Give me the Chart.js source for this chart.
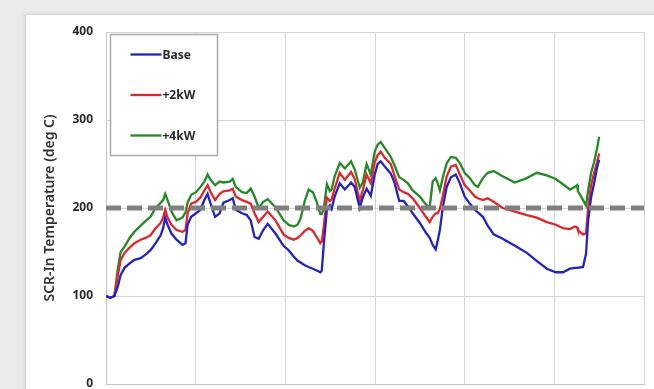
<!DOCTYPE html>
<html>
<head>
<meta charset="utf-8">
<script src="https://cdn.jsdelivr.net/npm/chart.js@4.4.1/dist/chart.umd.min.js"></script>
<style>
  html, body { margin: 0; padding: 0; width: 654px; height: 389px; overflow: hidden; background: #ebebeb; }
  #card { position: absolute; left: 25px; top: 14px; width: 700px; height: 500px; background: #ffffff;
          border: 1px solid #d6d6d6; box-shadow: 0 0 5px rgba(0,0,0,0.10); }
  #wrap { position: absolute; left: 0; top: 0; width: 654px; height: 430px; }
</style>
</head>
<body>
<div id="card"></div>
<div id="wrap"><canvas id="chart" width="654" height="430"></canvas></div>
<script>
// Time (s) over the drive cycle
const timeSec = [
  0, 15, 28, 39, 49, 62, 79, 95, 116, 132,
  149, 166, 183, 191, 198, 206, 219, 236, 256, 266,
  273, 285, 301, 316, 329, 340, 350, 365, 380, 393,
  414, 424, 434, 455, 471, 484, 497, 511, 526, 541,
  567, 594, 611, 628, 641, 651, 665, 678, 692, 705,
  717, 722, 729, 739, 749, 755, 765, 782, 799, 820,
  832, 849, 859, 872, 886, 899, 909, 919, 933, 953,
  966, 981, 996, 1010, 1026, 1050, 1070, 1083, 1093, 1103,
  1110, 1117, 1127, 1140, 1154, 1170, 1184, 1200, 1217, 1234,
  1244, 1261, 1277, 1297, 1327, 1368, 1408, 1441, 1475, 1505,
  1529, 1552, 1569, 1576, 1579, 1596, 1606, 1613, 1623, 1633,
  1643, 1650
];

// SCR inlet temperature (deg C), baseline
const tempBase = [
  100, 98, 100, 110, 124, 132, 137, 141, 143, 147,
  152, 160, 169, 177, 189, 181, 171, 164, 158, 160,
  181, 190, 194, 198, 209, 216, 205, 190, 194, 206,
  209, 211, 198, 194, 192, 186, 167, 165, 175, 182,
  171, 157, 152, 145, 140, 138, 135, 133, 131, 129,
  127, 129, 160, 198, 203, 199, 213, 228, 221, 229,
  224, 200, 212, 222, 214, 238, 250, 253, 247, 239,
  228, 208, 208, 202, 194, 183, 172, 166, 158, 153,
  163, 175, 201, 224, 235, 238, 228, 213, 205, 198,
  195, 190, 180, 170, 165, 157, 149, 140, 131, 127,
  127, 131, 132, 132, 132, 133, 148, 185, 212, 228,
  246, 255
];

// SCR inlet temperature (deg C), +2 kW
const temp2kW = [
  100, 98, 100, 122, 141, 149, 155, 160, 164, 166,
  169, 177, 183, 189, 198, 189, 181, 175, 173, 175,
  194, 205, 207, 212, 220, 226, 218, 209, 216, 219,
  220, 222, 213, 209, 207, 205, 194, 184, 190, 196,
  186, 170, 166, 164, 166, 169, 174, 177, 174, 167,
  160, 162, 180, 212, 208, 210, 222, 240, 232, 241,
  233, 208, 220, 238, 228, 252, 260, 264, 257, 250,
  236, 221, 218, 216, 211, 200, 190, 184, 190, 194,
  194, 199, 214, 236, 247, 249, 238, 226, 220, 213,
  211, 209, 211, 207, 200, 196, 192, 189, 184, 181,
  177, 176, 179, 178, 175, 170, 171, 200, 226, 240,
  252, 262
];

// SCR inlet temperature (deg C), +4 kW
const temp4kW = [
  100, 98, 100, 130, 150, 156, 166, 173, 180, 185,
  190, 200, 206, 209, 216, 209, 196, 186, 189, 195,
  206, 215, 218, 224, 230, 238, 232, 226, 230, 229,
  230, 233, 224, 218, 217, 222, 213, 200, 207, 210,
  201, 186, 181, 179, 181, 188, 208, 221, 218, 207,
  193, 193, 200, 227, 219, 221, 236, 251, 245, 253,
  244, 223, 229, 250, 238, 264, 272, 275, 268, 258,
  248, 235, 232, 228, 220, 213, 204, 201, 230, 234,
  228, 220, 235, 251, 258, 257, 251, 240, 234, 226,
  224, 234, 240, 242, 236, 229, 234, 240, 237, 233,
  227, 221, 224, 226, 219, 209, 203, 220, 240, 252,
  268, 281
];

const seriesNames = ['Base', '+2kW', '+4kW'];
const seriesColors = ['#2222c8', '#e3262b', '#248a24'];
const thresholdTemp = 200;
const yMin = 0, yMax = 400, yStep = 100;
const xMin = 0, xMax = 1800, xStep = 300;

const toPoints = (vals) => vals.map((v, i) => ({ x: timeSec[i], y: v }));

const FONT = '"Noto Sans", "Liberation Sans", sans-serif';

// Boxed legend inside the plot, upper-left corner
const insetLegend = {
  id: 'insetLegend',
  afterDraw(chart) {
    const ctx = chart.ctx;
    const left = chart.chartArea.left + 4.5;
    const top = chart.chartArea.top + 2.5;
    const w = 107, h = 121;
    ctx.save();
    ctx.fillStyle = '#ffffff';
    ctx.fillRect(left, top, w, h);
    ctx.strokeStyle = '#ababab';
    ctx.lineWidth = 1.5;
    ctx.strokeRect(left, top, w, h);
    ctx.font = 'bold 12px ' + FONT;
    ctx.textBaseline = 'middle';
    ctx.textAlign = 'left';
    chart.data.datasets.forEach((ds, i) => {
      if (!seriesNames.includes(ds.label)) return;
      const y = top + 20 + i * 40.5;
      ctx.strokeStyle = ds.borderColor;
      ctx.lineWidth = 2.3;
      ctx.beginPath();
      ctx.moveTo(left + 20, y);
      ctx.lineTo(left + 51, y);
      ctx.stroke();
      ctx.fillStyle = '#2a2a2a';
      ctx.fillText(ds.label, left + 52, y + 1);
    });
    ctx.restore();
  }
};

const datasets = [
  { label: seriesNames[0], data: toPoints(tempBase), borderColor: seriesColors[0] },
  { label: seriesNames[1], data: toPoints(temp2kW), borderColor: seriesColors[1] },
  { label: seriesNames[2], data: toPoints(temp4kW), borderColor: seriesColors[2] },
].map(d => Object.assign(d, { borderWidth: 2.3, pointRadius: 0, tension: 0, fill: false }));

datasets.push({
  label: 'threshold',
  data: [{ x: xMin, y: thresholdTemp }, { x: xMax, y: thresholdTemp }],
  borderColor: '#808080',
  borderWidth: 5,
  borderDash: [15, 6],
  borderCapStyle: 'butt',
  pointRadius: 0,
  order: -1
});

new Chart(document.getElementById('chart'), {
  type: 'line',
  data: { datasets },
  plugins: [insetLegend],
  options: {
    responsive: false,
    animation: false,
    events: [],
    layout: { padding: { left: 0, top: 32, right: 10, bottom: 46 } },
    plugins: { legend: { display: false }, tooltip: { enabled: false } },
    scales: {
      x: {
        type: 'linear', min: xMin, max: xMax,
        ticks: { stepSize: xStep, display: false },
        grid: { color: '#d4d4d4', drawTicks: false },
        border: { color: '#c4c4c4' },
        afterFit: (s) => { s.height = 0; }
      },
      y: {
        min: yMin, max: yMax,
        ticks: { stepSize: yStep, padding: 13, color: '#262626', font: { family: FONT, size: 12, weight: 'bold' } },
        grid: { color: '#d4d4d4', drawTicks: false },
        border: { color: '#c4c4c4' },
        title: {
          display: true, text: 'SCR-In Temperature (deg C)', color: '#333333',
          font: { family: FONT, size: 14, weight: '600' }, padding: { top: 42, bottom: 0 }
        },
        afterFit: (s) => { s.width = 106; }
      }
    }
  }
});
</script>
</body>
</html>
